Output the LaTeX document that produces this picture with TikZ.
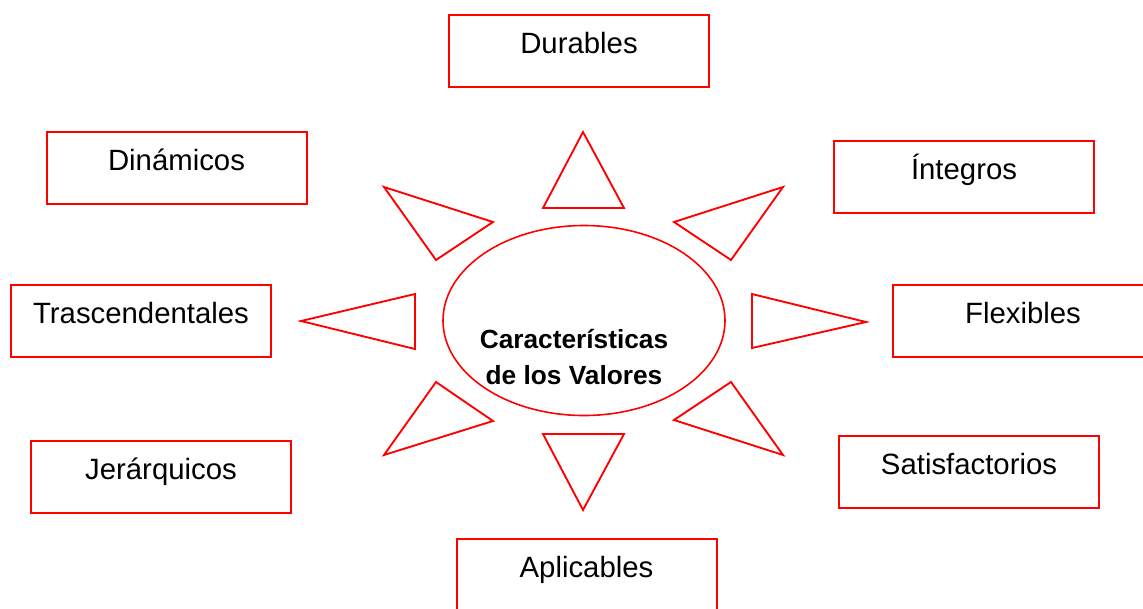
\documentclass[tikz,border=0pt]{standalone}
\usepackage{fontspec}
\setmainfont{Liberation Sans}
\usepackage{tikz}
\usetikzlibrary{shapes}

\begin{document}
\begin{tikzpicture}[x=0.75pt,y=-0.75pt]
\tikzstyle{caja}=[draw=red, line width=1.5pt, rectangle, minimum width=195pt, minimum height=54pt, inner sep=0pt, font=\fontsize{22}{26}\selectfont, text height=16pt, text depth=12.25pt]
\tikzstyle{rayo}=[draw=red, line width=1.4pt, line join=miter]
\tikzstyle{tit}=[anchor=base, inner sep=0pt, font=\fontsize{19.7}{27}\selectfont\bfseries]

\path[use as bounding box, clip] (0,0) rectangle (1143,608);

\node[draw=red, line width=1.2pt, ellipse, minimum width=211.5pt, minimum height=142.5pt, inner sep=0pt] (centro) at (584,320.5) {};
\node[tit] (tit1) at (574,348) {Características};
\node[tit] (tit2) at (574,384) {de los Valores};

\node[caja] (D) at (579,50.5) {Durables};
\node[caja] (Di) at (176.5,167.5) {Dinámicos};
\node[caja] (I) at (964,177) {Íntegros};
\node[caja] (T) at (141,320.5) {Trascendentales};
\node[caja] (F) at (1023,320.5) {Flexibles};
\node[caja] (J) at (161,476.5) {Jerárquicos};
\node[caja] (S) at (969,471.5) {Satisfactorios};
\node[caja] (A) at (586.5,575) {Aplicables};

\draw[rayo] (583,132) -- (624,208) -- (543,208) -- cycle;
\draw[rayo] (384,187) -- (493,222) -- (436,260) -- cycle;
\draw[rayo] (301,321) -- (415,294) -- (415,349) -- cycle;
\draw[rayo] (436,382) -- (493,421) -- (384,455) -- cycle;
\draw[rayo] (543,434) -- (624,434) -- (583,510) -- cycle;
\draw[rayo] (674,222) -- (783,187) -- (731,260) -- cycle;
\draw[rayo] (752,294) -- (866,322) -- (752,348) -- cycle;
\draw[rayo] (674,420) -- (731,382) -- (783,455) -- cycle;
\end{tikzpicture}
\end{document}
